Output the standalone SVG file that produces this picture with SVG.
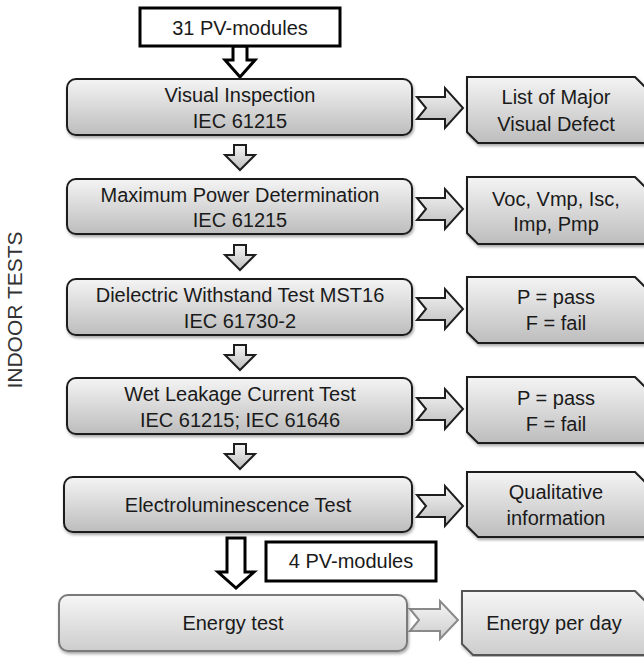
<svg xmlns="http://www.w3.org/2000/svg" width="644" height="657" viewBox="0 0 644 657">
<defs>
<linearGradient id="g" x1="0" y1="0" x2="0" y2="1">
<stop offset="0" stop-color="#f4f4f4"/>
<stop offset="1" stop-color="#bdbdbd"/>
</linearGradient>
<linearGradient id="gl" x1="0" y1="0" x2="0" y2="1">
<stop offset="0" stop-color="#f6f6f6"/>
<stop offset="1" stop-color="#cdcdcd"/>
</linearGradient>
<filter id="sh" x="-5%" y="-10%" width="110%" height="130%">
<feDropShadow dx="1" dy="2" stdDeviation="1.5" flood-color="#000" flood-opacity="0.35"/>
</filter>
<style>
.t{font-family:"Liberation Sans",Arial,sans-serif;font-size:20px;fill:#1a1a1a;text-anchor:middle}
.box{fill:url(#g);stroke:#1e1e1e;stroke-width:2;filter:url(#sh)}
.boxl{fill:url(#gl);stroke:#7a7a7a;stroke-width:2;filter:url(#sh)}
.wbox{fill:#fff;stroke:#000;stroke-width:3}
.arr{fill:url(#g);stroke:#1e1e1e;stroke-width:2}
.arrl{fill:url(#gl);stroke:#8a8a8a;stroke-width:2}
.harr{fill:#fff;stroke:#000;stroke-width:2.5}
</style>
</defs>
<rect width="644" height="657" fill="#fff"/>

<text class="t" transform="translate(22,310) rotate(-90)" style="fill:#333;font-size:21px">INDOOR TESTS</text>

<g id="connectors">
<path class="harr" style="stroke-width:3" d="M233,46 H247 V60 H255 L240,77 L225,60 H233 Z"/>
<path class="arr" d="M234,145 H246 V155 H255 L240,170 L225,155 H234 Z"/>
<path class="arr" d="M234,245 H246 V255 H255 L240,270 L225,255 H234 Z"/>
<path class="arr" d="M234,345 H246 V355 H255 L240,370 L225,355 H234 Z"/>
<path class="arr" d="M234,444 H246 V454 H255 L240,469 L225,454 H234 Z"/>
<path class="harr" style="stroke-width:3" d="M227,538 H245 V572 H254 L236,588 L218,572 H227 Z"/>
<path class="arr" d="M417,97 H445 V88 L463,108 L445,128 V119 H417 L426,108 Z"/>
<path class="arr" d="M417,198 H445 V189 L463,209 L445,229 V220 H417 L426,209 Z"/>
<path class="arr" d="M417,298 H445 V289 L463,309 L445,329 V320 H417 L426,309 Z"/>
<path class="arr" d="M417,398 H445 V389 L463,409 L445,429 V420 H417 L426,409 Z"/>
<path class="arr" d="M417,495 H445 V486 L463,506 L445,526 V517 H417 L426,506 Z"/>
<path class="arrl" d="M410,609 H440 V601 L458,620 L440,639 V631 H410 L419,620 Z"/>
</g>

<g id="n-31pv">
<rect class="wbox" x="140" y="8" width="200" height="38"/>
<text class="t" x="240" y="35">31 PV-modules</text>
</g>

<g id="n-visual">
<rect class="box" x="67" y="79" width="345" height="56" rx="9"/>
<text class="t" x="240" y="102">Visual Inspection</text>
<text class="t" x="240" y="128">IEC 61215</text>
</g>
<g id="n-maxpower">
<rect class="box" x="67" y="179" width="345" height="55" rx="9"/>
<text class="t" x="240" y="202">Maximum Power Determination</text>
<text class="t" x="240" y="227">IEC 61215</text>
</g>
<g id="n-dielectric">
<rect class="box" x="67" y="279" width="345" height="56" rx="9"/>
<text class="t" x="240" y="302">Dielectric Withstand Test MST16</text>
<text class="t" x="240" y="328">IEC 61730-2</text>
</g>
<g id="n-wetleak">
<rect class="box" x="67" y="378" width="345" height="56" rx="9"/>
<text class="t" x="240" y="401">Wet Leakage Current Test</text>
<text class="t" x="240" y="427">IEC 61215; IEC 61646</text>
</g>
<g id="n-el">
<rect class="box" x="64" y="477" width="348" height="55" rx="9"/>
<text class="t" x="238" y="512">Electroluminescence  Test</text>
</g>
<g id="n-4pv">
<rect class="wbox" x="266" y="542" width="170" height="39"/>
<text class="t" x="351" y="568">4 PV-modules</text>
</g>
<g id="n-energy">
<rect class="boxl" x="59" y="595" width="348" height="56" rx="9"/>
<text class="t" x="233" y="630">Energy test</text>
</g>

<g id="r-visual">
<path class="box" d="M467,77 H635 L646,88 V143 H478 L467,132 Z"/>
<text class="t" x="556" y="104">List of Major</text>
<text class="t" x="556" y="131">Visual Defect</text>
</g>
<g id="r-maxpower">
<path class="box" d="M467,177 H635 L646,188 V244 H478 L467,233 Z"/>
<text class="t" x="556" y="206">Voc, Vmp, Isc,</text>
<text class="t" x="556" y="231">Imp, Pmp</text>
</g>
<g id="r-dielectric">
<path class="box" d="M467,277 H635 L646,288 V343 H478 L467,332 Z"/>
<text class="t" x="556" y="304">P = pass</text>
<text class="t" x="556" y="330">F = fail</text>
</g>
<g id="r-wetleak">
<path class="box" d="M467,377 H635 L646,388 V443 H478 L467,432 Z"/>
<text class="t" x="556" y="405">P = pass</text>
<text class="t" x="556" y="431">F = fail</text>
</g>
<g id="r-el">
<path class="box" d="M467,472 H635 L646,483 V537 H478 L467,526 Z"/>
<text class="t" x="556" y="499">Qualitative</text>
<text class="t" x="556" y="525">information</text>
</g>
<g id="r-energy">
<path class="boxl" style="stroke:#555" d="M462,591 H635 L646,602 V655 H473 L462,644 Z"/>
<text class="t" x="554" y="630">Energy per day</text>
</g>
</svg>
